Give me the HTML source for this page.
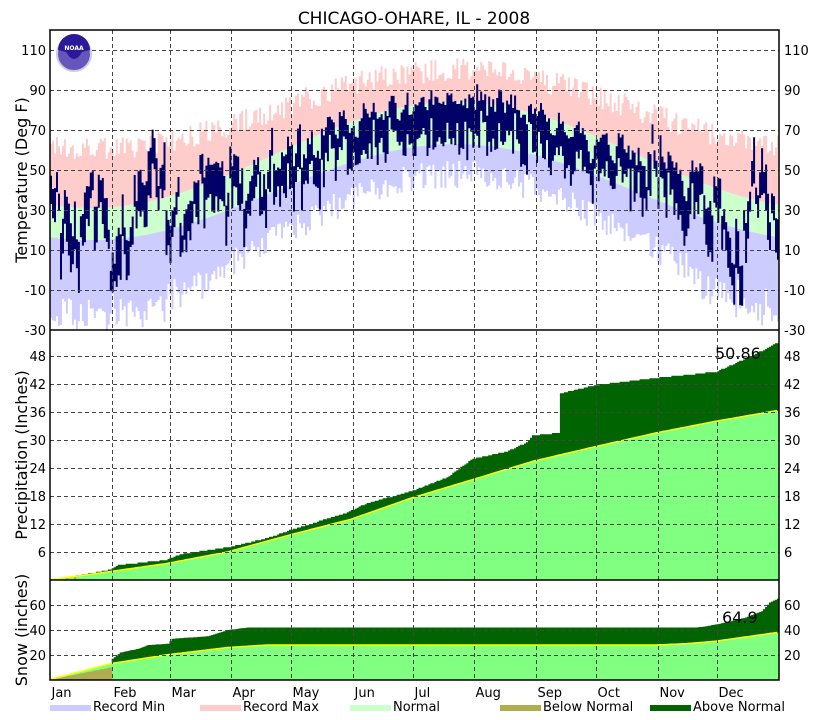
<!DOCTYPE html>
<html><head><meta charset="utf-8"><style>
html,body{margin:0;padding:0;background:#fff;}
svg{display:block;font-family:"DejaVu Sans","Liberation Sans",sans-serif;}
</style></head><body>
<svg id="s" width="829" height="720" xmlns="http://www.w3.org/2000/svg">
<text x="414" y="24" font-size="17" text-anchor="middle">CHICAGO-OHARE, IL - 2008</text>
<g id="plot"></g>
<g id="grid" stroke="#444" stroke-width="1" stroke-dasharray="4,3"></g>
<g id="frame" fill="none" stroke="#000" stroke-width="1.5">
<rect x="50" y="30" width="729" height="650"/>
<line x1="50" y1="330" x2="779" y2="330"/>
<line x1="50" y1="580" x2="779" y2="580"/>
</g>
<g id="labels" font-size="13"></g>
<g font-size="16">
<text transform="translate(27,180) rotate(-90)" text-anchor="middle">Temperature (Deg F)</text>
<text transform="translate(27,455) rotate(-90)" text-anchor="middle">Precipitation (Inches)</text>
<text transform="translate(27,630) rotate(-90)" text-anchor="middle">Snow (inches)</text>
<text x="715" y="359">50.86</text>
<text x="722" y="623">64.9</text>
</g>
<g transform="translate(74,54)">
<circle r="17" fill="#6655bb" stroke="#ccccdd" stroke-width="2"/>
<path d="M-16,-4 A16,16 0 0 1 16,-4 L8,-2 Q0,12 -8,-2 Z" fill="#2a1a99"/>
<text x="0" y="-4" font-size="6" fill="#fff" text-anchor="middle" font-weight="bold">NOAA</text>
</g>
<g font-size="13">
<rect x="50" y="705" width="41" height="6" fill="#ccccff"/><text x="93" y="711">Record Min</text>
<rect x="200" y="705" width="41" height="6" fill="#ffcccc"/><text x="243" y="711">Record Max</text>
<rect x="350" y="705" width="41" height="6" fill="#ccffcc"/><text x="393" y="711">Normal</text>
<rect x="500" y="705" width="41" height="6" fill="#b0ac50"/><text x="543" y="711">Below Normal</text>
<rect x="650" y="705" width="41" height="6" fill="#006400"/><text x="693" y="711">Above Normal</text>
</g>
</svg>
<script>
var NS="http://www.w3.org/2000/svg";
function el(p,t,a){var e=document.createElementNS(NS,t);for(var k in a)e.setAttribute(k,a[k]);p.appendChild(e);return e;}
var plot=document.getElementById('plot'),grid=document.getElementById('grid'),lab=document.getElementById('labels');
var X0=50,DW=729/366;
function xd(d){return X0+d*DW;}
var seed=12345;function rnd(){seed=(seed*1103515245+12345)%2147483648;return seed/2147483648;}
function gauss(){return (rnd()+rnd()+rnd()+rnd()-2)*1.7;}
function yT(t){return 330-(t+30)*2;}
var ta=0;
var pathB="",pathG="",pathP="",pathO="";
for(var d=0;d<366;d++){
 var c=Math.cos(2*Math.PI*(d-20)/366);
 var nh=57.5-26.5*c,nl=39-24*c;
 var rmax=80-20*c+ (rnd()-0.5)*12;
 var rmin=15-33*c+(rnd()-0.5)*14 - (c>0.5?rnd()*8:0);
 var x=xd(d);
 pathB+="M"+x.toFixed(1)+","+yT(rmin).toFixed(1)+"V"+yT(nl).toFixed(1)+"h2V"+yT(rmin).toFixed(1)+"z";
 pathG+="M"+x.toFixed(1)+","+yT(nl).toFixed(1)+"V"+yT(nh).toFixed(1)+"h2V"+yT(nl).toFixed(1)+"z";
 pathP+="M"+x.toFixed(1)+","+yT(nh).toFixed(1)+"V"+yT(rmax).toFixed(1)+"h2V"+yT(nh).toFixed(1)+"z";
 ta=ta*0.65+gauss()*(6+4*c);
 var hi=nh+ta+gauss()*3, lo=hi-8-rnd()*18;
 pathO+="M"+x.toFixed(1)+","+yT(lo).toFixed(1)+"V"+yT(hi).toFixed(1)+"h2V"+yT(lo).toFixed(1)+"z";
}
el(plot,'path',{d:pathB,fill:'#ccccff'});el(plot,'path',{d:pathG,fill:'#ccffcc'});
el(plot,'path',{d:pathP,fill:'#ffcccc'});el(plot,'path',{d:pathO,fill:'#000066'});
function interp(k,d){for(var i=1;i<k.length;i++){if(d<=k[i][0]){var a=k[i-1],b=k[i];return a[1]+(b[1]-a[1])*(d-a[0])/(b[0]-a[0]);}}return k[k.length-1][1];}
function panel(act,nor,ybase,sc){
 var g="",dg="",ol="",line="";
 for(var d=0;d<366;d++){
  var a=Math.round(interp(act,d+1)*4)/4,n=interp(nor,d+1);
  var x=xd(d).toFixed(1),w=DW+0.3;
  var yn=ybase-n*sc,ya=ybase-a*sc;
  g+="M"+x+","+ybase+"V"+yn.toFixed(1)+"h"+w.toFixed(2)+"V"+ybase+"z";
  if(a>n) dg+="M"+x+","+yn.toFixed(1)+"V"+ya.toFixed(1)+"h"+w.toFixed(2)+"V"+yn.toFixed(1)+"z";
  else ol+="M"+x+","+ybase+"V"+ya.toFixed(1)+"h"+w.toFixed(2)+"V"+ybase+"z";
  line+=(d?"L":"M")+x+","+yn.toFixed(1);
 }
 el(plot,'path',{d:g,fill:'#80ff80'});el(plot,'path',{d:ol,fill:'#b0ac50'});el(plot,'path',{d:dg,fill:'#006400'});
 el(plot,'path',{d:line,fill:'none',stroke:'#ffff00','stroke-width':1.5});
}
panel([[0,0],[15,1.0],[31,2.2],[35,3.2],[59,4.3],[66,5.5],[90,7],[110,9],[120,10.5],[150,14.5],[160,16.5],[182,19],[200,22],[213,26],[230,27.5],[240,29.5],[243,31],[256,31.5],[257,40],[275,41.8],[305,43.3],[335,44.6],[345,46.5],[355,48.5],[360,49.5],[366,50.86]],
 [[0,0],[31,1.8],[59,3.5],[90,6],[120,9.5],[152,13],[182,17.5],[213,21.5],[244,25.5],[274,28.5],[305,31.5],[335,34],[366,36.3]],580,224/48);
panel([[0,0],[31,10],[32,17],[36,22],[45,25],[50,28],[60,29],[62,33],[80,35],[90,40],[100,42],[325,42],[330,43],[340,46],[350,50],[358,55],[362,62],[366,64.9]],
 [[0,0],[31,13],[59,20],[90,26],[110,28],[305,28],[320,29],[335,31],[366,38]],680,25/20);
var ms=[0,31,60,91,121,152,182,213,244,274,305,335],mn=["Jan","Feb","Mar","Apr","May","Jun","Jul","Aug","Sep","Oct","Nov","Dec"];
for(var i=0;i<12;i++){var x=Math.round(xd(ms[i]))+0.5;if(i>0)el(grid,'line',{x1:x,y1:30,x2:x,y2:680});
 var t=el(lab,'text',{x:x+1,y:697});t.textContent=mn[i];}
function hl(y,txt){el(grid,'line',{x1:50,y1:y+0.5,x2:779,y2:y+0.5});
 var a=el(lab,'text',{x:46,y:y+5,'text-anchor':'end'});a.textContent=txt;
 var b=el(lab,'text',{x:784,y:y+5});b.textContent=txt;}
[110,90,70,50,30,10,-10].forEach(function(t){hl(yT(t),t);});
var a=el(lab,'text',{x:46,y:335,'text-anchor':'end'});a.textContent="-30";
var b=el(lab,'text',{x:784,y:335});b.textContent="-30";
[48,42,36,30,24,18,12,6].forEach(function(p){hl(Math.round(580-p*224/48),p);});
[60,40,20].forEach(function(p){hl(Math.round(680-p*25/20),p);});
</script>
</body></html>
